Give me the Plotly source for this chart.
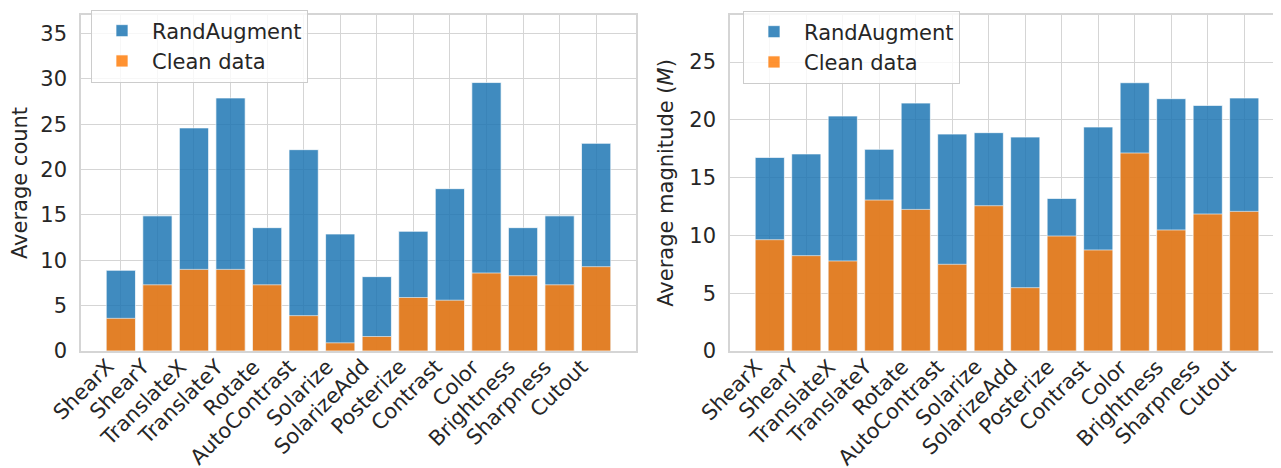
import plotly.graph_objects as go

categories = ["ShearX", "ShearY", "TranslateX", "TranslateY", "Rotate", "AutoContrast",
              "Solarize", "SolarizeAdd", "Posterize", "Contrast", "Color", "Brightness",
              "Sharpness", "Cutout"]

count_randaug = [8.9, 14.9, 24.6, 27.9, 13.6, 22.2, 12.9, 8.2, 13.2, 17.9, 29.6, 13.6, 14.9, 22.9]
count_clean = [3.6, 7.3, 9.0, 9.0, 7.3, 3.9, 0.9, 1.6, 5.9, 5.6, 8.6, 8.3, 7.3, 9.3]

mag_randaug = [16.75, 17.05, 20.33, 17.45, 21.45, 18.77, 18.89, 18.51, 13.2, 19.38, 23.21, 21.83, 21.25, 21.89]
mag_clean = [9.63, 8.25, 7.79, 13.06, 12.25, 7.5, 12.57, 5.48, 9.95, 8.74, 17.13, 10.47, 11.85, 12.08]

BLUE = "#1f77b4"
ORANGE = "#ff7f0e"
TXT = "#262626"
GRID = "#d5d5d5"
FONT = "DejaVu Sans"
FS = 21

fig = go.Figure()

def add_pair(xa, ya, blue_vals, orange_vals, legend):
    fig.add_trace(go.Bar(x=categories, y=blue_vals, name="RandAugment", xaxis=xa, yaxis=ya,
                         marker=dict(color=BLUE, line=dict(color="rgba(255,255,255,0.7)", width=1)),
                         opacity=0.85, legend=legend, hoverinfo="skip"))
    fig.add_trace(go.Bar(x=categories, y=orange_vals, name="Clean data", xaxis=xa, yaxis=ya,
                         marker=dict(color=ORANGE, line=dict(color="rgba(255,255,255,0.7)", width=1)),
                         opacity=0.85, legend=legend, hoverinfo="skip"))

add_pair("x", "y", count_randaug, count_clean, "legend")
add_pair("x2", "y2", mag_randaug, mag_clean, "legend2")

W, H = 1281, 468
top_px, bot_px = 7, 343
ydom = [(H - bot_px) / H, (H - top_px) / H]

# category tick labels, rotated like matplotlib (rotation=45, ha='right')
for xref in ("x", "x2"):
    for c in categories:
        fig.add_annotation(x=c, xref=xref, y=ydom[0], yref="paper", text=c, showarrow=False,
                           textangle=-45, xanchor="right", yanchor="top", yshift=-1,
                           font=dict(size=FS, color=TXT, family=FONT))

xcommon = dict(type="category", range=[-1.09, 14.09], showgrid=True, gridcolor=GRID, gridwidth=1,
               showline=True, linecolor=GRID, linewidth=1.5, mirror=True,
               ticks="", showticklabels=False, automargin=False, zeroline=False)
ycommon = dict(showgrid=True, gridcolor=GRID, gridwidth=1, showline=True, linecolor=GRID,
               linewidth=1.5, mirror=True, ticks="", tickfont=dict(size=FS, color=TXT, family=FONT),
               zeroline=False, automargin=False, ticklabelstandoff=8)

legcommon = dict(xanchor="left", yanchor="top", bgcolor="rgba(255,255,255,0.8)",
                 bordercolor="#cccccc", borderwidth=1, itemwidth=50,
                 font=dict(size=FS, color=TXT, family=FONT), traceorder="normal")

fig.update_layout(
    width=W, height=H,
    margin=dict(l=0, r=0, t=0, b=0),
    paper_bgcolor="white", plot_bgcolor="white",
    barmode="overlay", bargap=0.2,
    font=dict(family=FONT, color=TXT, size=FS),
    xaxis=dict(domain=[73 / W, 628 / W], anchor="y", **xcommon),
    xaxis2=dict(domain=[722 / W, 1276 / W], anchor="y2", **xcommon),
    yaxis=dict(domain=ydom, anchor="x", range=[0, 37.05], tickvals=[0, 5, 10, 15, 20, 25, 30, 35],
               title=dict(text="Average count", font=dict(size=FS, color=TXT), standoff=10), **ycommon),
    yaxis2=dict(domain=ydom, anchor="x2", range=[0, 29.07], tickvals=[0, 5, 10, 15, 20, 25],
                title=dict(text="Average magnitude (<i>M</i>)", font=dict(size=FS, color=TXT), standoff=10),
                **ycommon),
    legend=dict(x=83 / W, y=1 - 1.5 / H, **legcommon),
    legend2=dict(x=735 / W, y=1 - 2.5 / H, **legcommon),
)

fig.write_html("out.html")
